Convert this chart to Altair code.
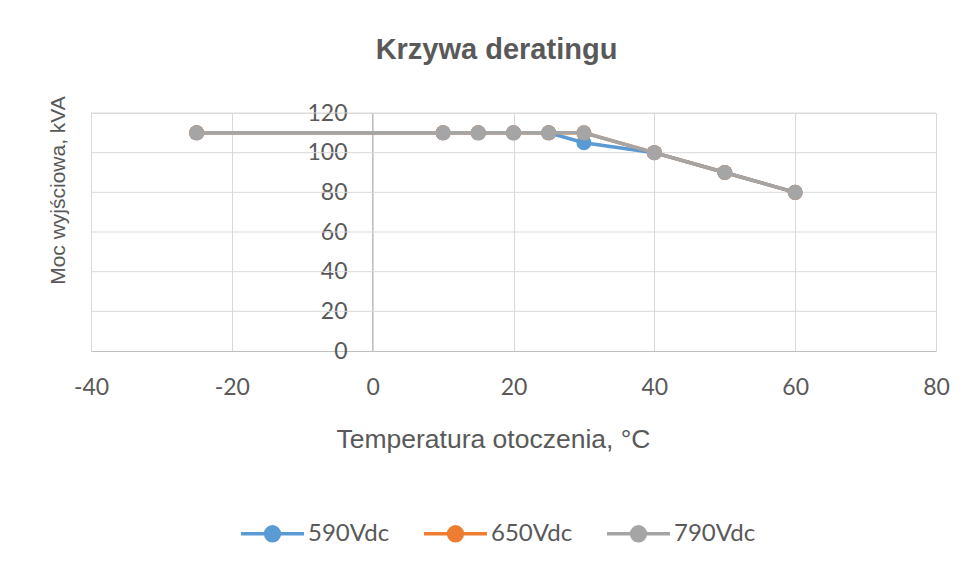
import altair as alt
import pandas as pd

series = ["590Vdc", "650Vdc", "790Vdc"]
colors = ["#5B9BD5", "#ED7D31", "#A5A5A5"]

temps = [-25, 10, 15, 20, 25, 30, 40, 50, 60]
power_590 = [110, 110, 110, 110, 110, 105, 100, 90, 80]
power_650 = [110, 110, 110, 110, 110, 110, 100, 90, 80]
power_790 = [110, 110, 110, 110, 110, 110, 100, 90, 80]

x_ticks = [-40, -20, 0, 20, 40, 60, 80]
y_ticks = [0, 20, 40, 60, 80, 100, 120]

rows = []
for s, vals in zip(series, [power_590, power_650, power_790]):
    for t, p in zip(temps, vals):
        rows.append({"temp": t, "power": p, "series": s})
df = pd.DataFrame(rows)
grid_df = pd.DataFrame({"power": y_ticks[1:]})

TEXT = "#595959"

x_enc = alt.X(
    "temp:Q",
    scale=alt.Scale(domain=[-40, 80], nice=False),
    axis=alt.Axis(
        values=x_ticks, title="Temperatura otoczenia, °C", grid=True,
        gridColor="#d9d9d9", gridWidth=1, domainColor="#bfbfbf", domainWidth=1,
        ticks=False, tickSize=0, labelPadding=25, labelFlush=False,
        labelFont="Lato", labelFontSize=23, labelColor=TEXT,
        labelExpr="'' + datum.value",
        titleFont="Liberation Sans", titleFontSize=26.5, titleFontWeight="normal",
        titleColor=TEXT, titleX=402, titleY=96, titleAlign="center",
        titleBaseline="alphabetic",
    ),
)
y_enc = alt.Y(
    "power:Q",
    scale=alt.Scale(domain=[0, 120], nice=False),
    axis=alt.Axis(
        values=y_ticks, title="Moc wyjściowa, kVA", grid=False, offset=-281,
        domainColor="#bfbfbf", domainWidth=1, ticks=False, tickSize=0,
        labelPadding=25, labelFlush=False, labelFont="Lato", labelFontSize=23,
        labelColor=TEXT, labelExpr="'' + datum.value",
        titleFont="Liberation Sans", titleFontSize=21, titleFontWeight="normal",
        titleColor=TEXT, titleX=-308, titleY=77, titleAlign="center",
        titleBaseline="alphabetic", titleAngle=270,
    ),
)

sym_path = ("M-1,0L1,0M-0.22,0A0.22,0.22,0,1,1,0.22,0"
            "A0.22,0.22,0,1,1,-0.22,0Z")
color_enc = alt.Color(
    "series:N",
    scale=alt.Scale(domain=series, range=colors),
    legend=alt.Legend(
        orient="none", legendX=148, legendY=387, direction="horizontal",
        title=None, symbolType=sym_path, symbolSize=3969, symbolStrokeWidth=3.5,
        symbolOpacity=1, labelFont="Lato", labelFontSize=24, labelColor=TEXT,
        labelOffset=2, columnPadding=27,
    ),
)

grid = alt.Chart(grid_df).mark_rule(color="#d9d9d9", strokeWidth=1).encode(
    y=y_enc, x=alt.datum(-40), x2=alt.datum(80)
)

layers = [grid]
for s in series:
    b = alt.Chart(df).transform_filter(alt.datum.series == s)
    layers.append(b.mark_line(strokeWidth=3.5).encode(x=x_enc, y=y_enc, color=color_enc))
    layers.append(b.mark_point(filled=True, size=225, opacity=1).encode(
        x=x_enc, y=y_enc, color=color_enc))

chart = alt.layer(*layers).properties(
    width=845, height=238,
    title=alt.TitleParams(
        "Krzywa deratingu", font="Liberation Sans", fontSize=29,
        fontWeight="bold", color=TEXT, anchor="middle", dx=-17, dy=-27,
    ),
    autosize="none",
    padding={"left": 83, "top": 105, "right": 30, "bottom": 213},
).configure_view(stroke=None).configure(background="white")

chart.save("out.html", embed_options={"renderer": "svg", "actions": False})
